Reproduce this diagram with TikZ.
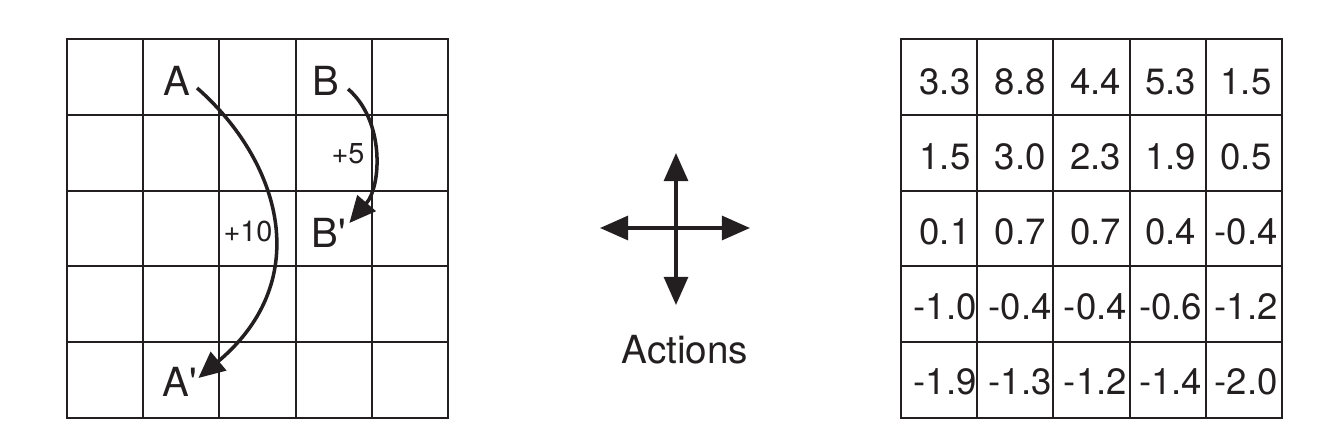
\documentclass[tikz,border=0pt]{standalone}
\usepackage{fontspec}
\setmainfont{TeX Gyre Heros}
\newfontfamily\heros{TeX Gyre Heros}
\usetikzlibrary{arrows.meta}
\definecolor{ink}{HTML}{231F20}
\begin{document}
\begin{tikzpicture}[x=0.01cm,y=-0.01cm,
  gridline/.style={draw=ink, line width=0.6pt},
  frame/.style={draw=ink, line width=0.8pt},
  lbl/.style={font=\heros\fontsize{11.4}{12}\selectfont, text=ink, inner sep=0pt},
  val/.style={font=\heros\fontsize{10.4}{12}\selectfont, text=ink, inner sep=0pt},
  rew/.style={font=\heros\fontsize{8.2}{9}\selectfont, text=ink, inner sep=0pt},
  move/.style={draw=ink, line width=1pt, -{Triangle[length=7.5pt,width=6.8pt]}},
  act/.style={draw=ink, line width=1pt, -{Triangle[length=8pt,width=6.8pt]}},
]
\useasboundingbox (0,0) rectangle (1320,440);
% left grid
\foreach \i in {1,...,4} {
  \draw[gridline] (67+76.2*\i,39) -- (67+76.2*\i,418);
  \draw[gridline] (67,39+75.8*\i) -- (448,39+75.8*\i);
}
\draw[frame] (67,39) rectangle (448,418);
% right grid
\foreach \i in {1,...,4} {
  \draw[gridline] (901+76.2*\i,39) -- (901+76.2*\i,418);
  \draw[gridline] (901,39+75.8*\i) -- (1282,39+75.8*\i);
}
\draw[frame] (901,39) rectangle (1282,418);
% labels
\node[lbl] (A)  at (177,81) {A};
\node[lbl] (Ap) at (179.5,382) {A'};
\node[lbl] (B)  at (326,81) {B};
\node[lbl] (Bp) at (328.5,233) {B'};
\node[rew] (r5)  at (348,154) {+5};
\node[rew] (r10) at (248,232) {+10};
\draw[move] ([shift={(6,7)}]A.east) .. controls +(82,72) and +(118,-99) .. ([shift={(1,-4)}]Ap.east);
\draw[move] ([shift={(8,8)}]B.east) .. controls +(37,32) and +(32,-37) .. ([shift={(3,-10)}]Bp.east);
% actions
\coordinate (c) at (676,228);
\coordinate (up) at (676,153);
\coordinate (down) at (676,305);
\coordinate (left) at (600,228);
\coordinate (right) at (750,228);
\draw[act] (c) -- (up);
\draw[act] (c) -- (down);
\draw[act] (c) -- (left);
\draw[act] (c) -- (right);
\node[lbl, font=\heros\fontsize{11}{12}\selectfont] (actions) at (685,350) {Actions};
% values
\foreach \row [count=\r] in {{3.3,8.8,4.4,5.3,1.5},{1.5,3.0,2.3,1.9,0.5},{0.1,0.7,0.7,0.4,-0.4},{-1.0,-0.4,-0.4,-0.6,-1.2},{-1.9,-1.3,-1.2,-1.4,-2.0}} {
  \foreach \v [count=\c] in \row {
    \node[val] (v\r\c) at ({945+75.25*(\c-1)},{81.5+75.1*(\r-1)}) {\v};
  }
}
\end{tikzpicture}
\end{document}
